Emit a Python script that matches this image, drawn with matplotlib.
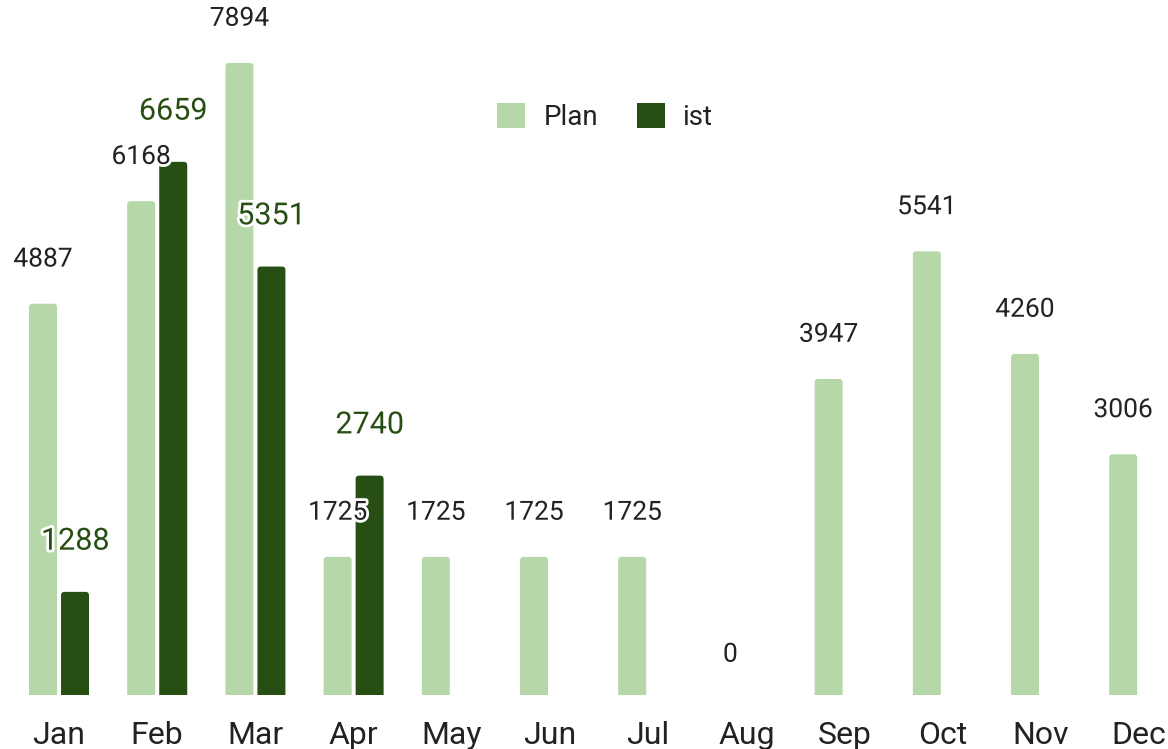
import matplotlib.pyplot as plt
import matplotlib.patheffects as pe
from matplotlib.patches import Patch, FancyBboxPatch
import numpy as np

plt.rcParams['font.family'] = ['Roboto', 'DejaVu Sans']

months = ['Jan', 'Feb', 'Mar', 'Apr', 'May', 'Jun', 'Jul', 'Aug', 'Sep', 'Oct', 'Nov', 'Dec']
plan = [4887, 6168, 7894, 1725, 1725, 1725, 1725, 0, 3947, 5541, 4260, 3006]
ist = [1288, 6659, 5351, 2740]

plan_color = '#b6d7a8'
ist_color = '#274e13'

fig = plt.figure(figsize=(11.68, 7.49), dpi=100)
ax = fig.add_axes([0, 54 / 749, 1, 695 / 749])

x = np.arange(len(months))
w = 0.285
off = 0.163

ax.set_xlim(-0.601, 11.293)
ax.set_ylim(0, 8680)


def round_tops(bars, r_px=3.5):
    # swap plain rectangles for ones with rounded corners (bottom ones hidden below axis)
    rx = r_px * (11.293 + 0.601) / 1168
    ry = r_px * 8680 / 695
    for b in bars:
        x0, y0 = b.get_x(), b.get_y()
        bw, bh = b.get_width(), b.get_height()
        p = FancyBboxPatch((x0, y0 - ry), bw, bh + ry,
                           boxstyle=f'round,pad=0,rounding_size={rx}',
                           mutation_aspect=ry / rx, facecolor=b.get_facecolor(),
                           edgecolor='none', zorder=2)
        ax.add_patch(p)
        b.remove()


round_tops(ax.bar(x - off, plan, width=w, color=plan_color, zorder=2))
xi = x[:len(ist)]
round_tops(ax.bar(xi + off, ist, width=w, color=ist_color, zorder=2))

halo = [pe.withStroke(linewidth=4, foreground='white')]
for xx, v in zip(x, plan):
    dy = 29 if v == 0 else 31.8
    ax.annotate(str(v), (xx - off, v), xytext=(0, dy), textcoords='offset points',
                ha='center', va='center', fontsize=19, color='#222222',
                path_effects=halo, zorder=3)
for xx, v in zip(xi, ist):
    ax.annotate(str(v), (xx + off, v), xytext=(0, 36.5), textcoords='offset points',
                ha='center', va='center', fontsize=22, color=ist_color,
                path_effects=halo, zorder=4)

ax.set_xticks(x)
ax.set_xticklabels(months, fontsize=23, color='#222222')
ax.tick_params(axis='x', length=0, pad=19)
ax.set_yticks([])
for s in ax.spines.values():
    s.set_visible(False)

handles = [Patch(facecolor=plan_color, label='Plan'), Patch(facecolor=ist_color, label='ist')]
fig.legend(handles=handles, loc='center', bbox_to_anchor=(0.518, 1 - 117 / 749), ncol=2,
           frameon=False, fontsize=20, handlelength=1.0, handleheight=1.0,
           handletextpad=0.65, columnspacing=1.4, labelcolor='#222222')

fig.savefig('out.png', dpi=100)
